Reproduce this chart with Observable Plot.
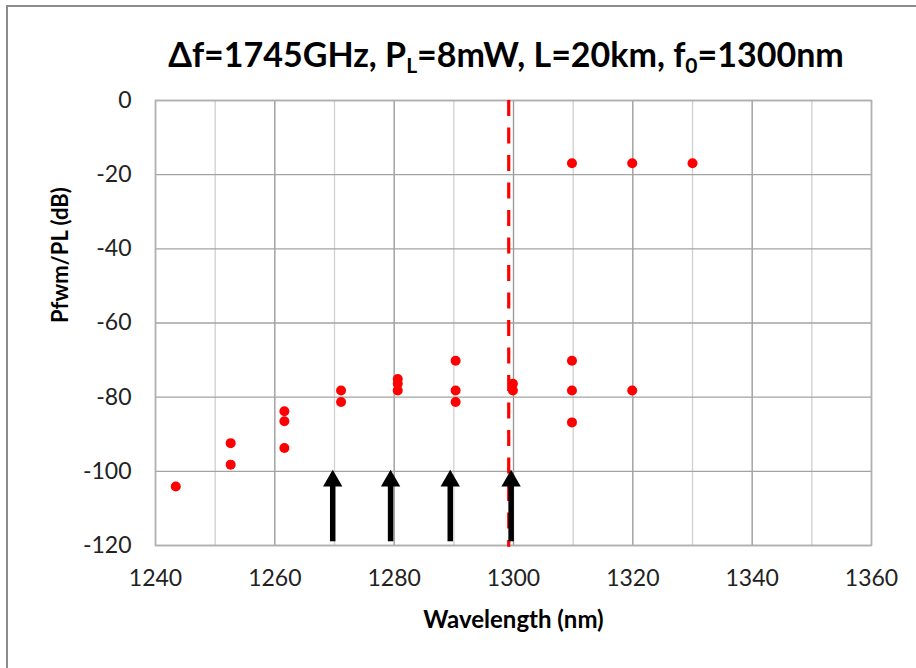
<!DOCTYPE html>
<html>
<head>
<meta charset="utf-8">
<script src="https://cdn.jsdelivr.net/npm/d3@7"></script>
<script src="https://cdn.jsdelivr.net/npm/@observablehq/plot@0.6"></script>
<style>
  html, body { margin: 0; padding: 0; background: #fff; }
  #wrap { position: relative; width: 916px; height: 668px; overflow: hidden; background: #fff; font-family: Lato, "Open Sans", sans-serif; }
  #frame { position: absolute; left: 6px; top: 5px; width: 1000px; height: 1000px; border-left: 2px solid #8c8c8c; border-top: 2px solid #8c8c8c; z-index: 2; pointer-events: none; }
  #title { position: relative; height: 80px; box-sizing: border-box; padding-top: 38px; padding-left: 96px; text-align: center; font-weight: bold; font-size: 34px; line-height: 32px; color: #000; white-space: nowrap; }
  #title sub { font-size: 21px; vertical-align: -6px; line-height: 0; }
  #chart svg { display: block; }
</style>
</head>
<body>
<div id="wrap">
  <div id="frame"></div>
  <div id="title">Δf=1745GHz, P<sub>L</sub>=8mW, L=20km, f<sub>0</sub>=1300nm</div>
  <div id="chart"></div>
</div>
<script>
// Data
const wavelength = [1243.4, 1252.6, 1252.6, 1261.6, 1261.6, 1261.6, 1271.1, 1271.1, 1280.6, 1280.6, 1280.6, 1290.3, 1290.3, 1290.3, 1299.9, 1299.9, 1309.8, 1309.8, 1309.8, 1309.8, 1319.9, 1319.9, 1330.0];
const pfwmDb     = [-104.1, -92.4, -98.2, -83.8, -86.5, -93.7, -78.2, -81.3, -75.1, -76.4, -78.2, -70.2, -78.2, -81.3, -76.4, -78.2, -16.9, -70.2, -78.2, -86.8, -16.9, -78.2, -16.9];

const arrowX    = [1269.7, 1279.4, 1289.4, 1299.6];
const arrowBase = -119;
const arrowTip  = -99.6;
const arrowShaftTop = -103;

const centerWavelength = [1299.2];
const dashedFrom = 0;
const dashedTo = -120.5;

const xTicks = [1240, 1260, 1280, 1300, 1320, 1340, 1360];
const xMinorGrid = [1250, 1270, 1290, 1310, 1330, 1350];
const yTicks = [0, -20, -40, -60, -80, -100, -120];

const points = wavelength.map((w, i) => ({w, p: pfwmDb[i]}));
const arrows = arrowX.map(x => ({x, y1: arrowBase, y2: arrowShaftTop, tip: arrowTip}));

const chart = Plot.plot({
  width: 916,
  height: 588,
  marginLeft: 155,
  marginRight: 45,
  marginTop: 20,
  marginBottom: 123,
  style: { fontFamily: "Lato, 'Open Sans', sans-serif", background: "transparent", color: "#000" },
  x: { domain: [1240, 1360] },
  y: { domain: [-120, 0] },
  marks: [
    Plot.gridX(xMinorGrid, { stroke: "#cfcfcf", strokeOpacity: 1, strokeWidth: 1.3 }),
    Plot.gridX(xTicks, { stroke: "#959595", strokeOpacity: 1, strokeWidth: 1.3 }),
    Plot.gridY(yTicks, { stroke: "#a3a3a3", strokeOpacity: 1, strokeWidth: 1.3 }),
    Plot.frame({ stroke: "#b0b0b0", strokeWidth: 1.5 }),
    Plot.axisX(xTicks, { tickSize: 0, tickPadding: 24, fontSize: 23, fill: "#222", tickFormat: d => String(d), label: "Wavelength (nm)", labelAnchor: "center", labelArrow: "none", labelOffset: 82 }),
    Plot.axisY(yTicks, { tickSize: 0, tickPadding: 24, fontSize: 23, fill: "#222", tickFormat: d => String(d), label: null }),
    Plot.text(["Pfwm/PL (dB)"], { frameAnchor: "left", dx: -95, rotate: -90, fontSize: 22, fontWeight: "bold", fill: "#000" }),
    Plot.ruleX(centerWavelength, { y1: dashedFrom, y2: dashedTo, stroke: "#ff0000", strokeWidth: 3.2, strokeDasharray: "16,11.5", clip: false }),
    Plot.ruleX(arrows, { x: "x", y1: "y1", y2: "y2", stroke: "#000", strokeWidth: 5.5 }),
    Plot.dot(arrows, { x: "x", y: "tip", symbol: "triangle", r: 7.2, fill: "#000", stroke: "none", dy: 11 }),
    Plot.dot(points, { x: "w", y: "p", r: 5, fill: "#ff0000", stroke: "none" })
  ]
});
document.getElementById("chart").appendChild(chart);
// Bold axis label
chart.querySelectorAll("[aria-label='x-axis label'] text").forEach(t => { t.setAttribute("font-weight", "bold"); t.setAttribute("font-size", "24"); t.setAttribute("fill", "#000"); });
</script>
</body>
</html>
